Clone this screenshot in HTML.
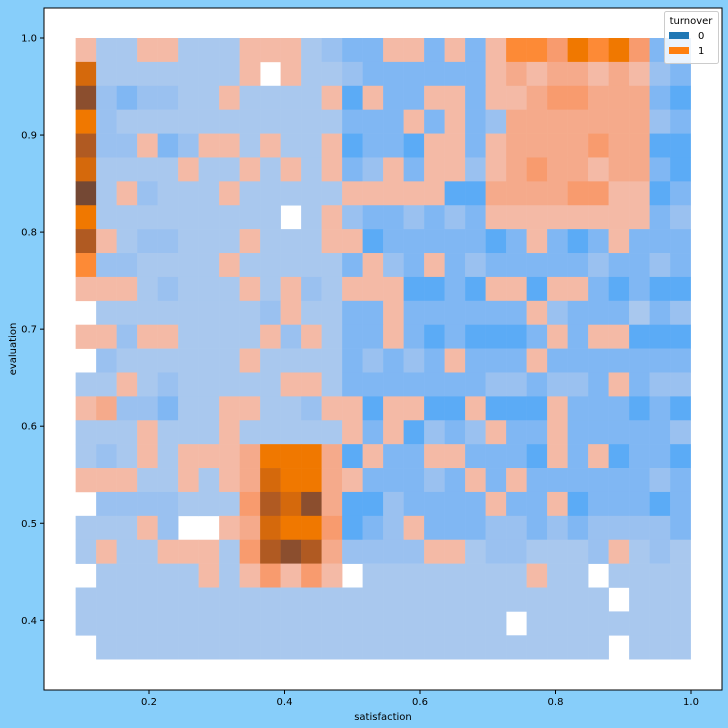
<!DOCTYPE html>
<html><head><meta charset="utf-8"><style>
html,body{margin:0;padding:0;background:#87cefa;}
svg{display:block;font-family:"DejaVu Sans","Liberation Sans",sans-serif;}
</style></head><body>
<svg id="chart" width="728" height="728" viewBox="0 0 728 728">
<rect x="0" y="0" width="728" height="728" fill="#87cefa"/>
<rect x="44" y="8" width="678" height="682" fill="#ffffff"/>
<g id="cells"></g>
<g id="axes"></g>
<rect x="44" y="8" width="678" height="682" fill="none" stroke="#000" stroke-width="1"/>
<text x="383" y="720" font-size="10" text-anchor="middle">satisfaction</text>
<text x="16" y="349" font-size="10" text-anchor="middle" transform="rotate(-90 16 349)">evaluation</text>
<g>
<rect x="664.5" y="11.5" width="54" height="52" rx="2" fill="#ffffff" fill-opacity="0.8" stroke="#cccccc"/>
<text x="691" y="24" font-size="10" text-anchor="middle">turnover</text>
<rect x="669" y="32" width="20" height="7" fill="#1f77b4"/>
<text x="698" y="39" font-size="10">0</text>
<rect x="669" y="47" width="20" height="7" fill="#ff7f0e"/>
<text x="698" y="54" font-size="10">1</text>
</g>
</svg>
<script>
// Grid codes: '0' empty, '1'-'4' turnover=0 density level, 'a'-'i' turnover=1 density level
const gridRows = [
"a11aa111aaa1233aa3a3addcedec32",
"f1111111a0a112333333ababbaba23",
"h232211a1111a4a33aa3aabccbbb34",
"e211111111111333a3a32bbbbbbb23",
"g22a32aa1a11a4334aa3abbbbcbb44",
"f1111a11a1a1a32a3aa2abcbbabb34",
"i1a2111a11111aaaaa44bbbbccaa43",
"e11111111101a2332323aaaaaaaa32",
"ga122111a111aa43333343a343a333",
"d221111a111113a23a323333323323",
"aaa12111a1a21aaa4434aa4aa34344",
"0111111112a1133a333333a2333132",
"aa2aa1111a2a133a3434443a3aa444",
"02111111a111132323a333a3333333",
"11a1211111aa13333333223223a322",
"ab22311aa112aa4aa44a444a333434",
"111a111a11111a3a4232a33a333332",
"121a1aaabeeeb4a33aa3334a3a4334",
"aaa11a1abfeeba33323a3a33333323",
"02222111cgfhb4423333a33a433343",
"111a200abfeec432a3332232322223",
"1a11aaa1cghgb2222aa1221112a121",
"011111a1acaca011111111a1101111",
"111111111111111111111111110111",
"111111111111111111111011111111",
"011111111111111111111111110111"
];
const xTicks = [0.2, 0.4, 0.6, 0.8, 1.0];
const yTicks = [0.4, 0.5, 0.6, 0.7, 0.8, 0.9, 1.0];
const xBinStart = 0.0917, xBinWidth = 0.030258;
const yBinTop = 1.0, yBinHeight = 0.024618;

const blueColors = ["none","#a9c8ee","#9ac1f0","#80b7f3","#5babf6"];
const orangeColors = {a:"#f4baa6",b:"#f5aa8b",c:"#f89b6e",d:"#fd8a36",e:"#f07800",f:"#d5690c",g:"#b05a22",h:"#8b4e2e",i:"#744834"};

function xScale(v){ return 149 + (v - 0.2) * 677.5; }
function yScale(v){ return 38 + (1.0 - v) * 970.5; }

const NS = "http://www.w3.org/2000/svg";
const cellsG = document.getElementById("cells");
gridRows.forEach(function(row, r){
  for (let c = 0; c < row.length; c++){
    const code = row[c];
    if (code === "0") continue;
    const fill = orangeColors[code] || blueColors[+code];
    const x0 = xScale(xBinStart + c * xBinWidth), x1 = xScale(xBinStart + (c + 1) * xBinWidth);
    const y0 = yScale(yBinTop - r * yBinHeight), y1 = yScale(yBinTop - (r + 1) * yBinHeight);
    const rect = document.createElementNS(NS, "rect");
    rect.setAttribute("x", x0.toFixed(2));
    rect.setAttribute("y", y0.toFixed(2));
    rect.setAttribute("width", (x1 - x0 + 0.3).toFixed(2));
    rect.setAttribute("height", (y1 - y0 + 0.3).toFixed(2));
    rect.setAttribute("fill", fill);
    
    
    cellsG.appendChild(rect);
  }
});

const axesG = document.getElementById("axes");
xTicks.forEach(function(t){
  const x = xScale(t);
  const ln = document.createElementNS(NS, "line");
  ln.setAttribute("x1", x); ln.setAttribute("x2", x);
  ln.setAttribute("y1", 690); ln.setAttribute("y2", 694);
  ln.setAttribute("stroke", "#000");
  
  
  axesG.appendChild(ln);
  const tx = document.createElementNS(NS, "text");
  tx.setAttribute("x", x); tx.setAttribute("y", 705);
  tx.setAttribute("font-size", "10"); tx.setAttribute("text-anchor", "middle");
  tx.textContent = t.toFixed(1);
  
  
  axesG.appendChild(tx);
});
yTicks.forEach(function(t){
  const y = yScale(t);
  const ln = document.createElementNS(NS, "line");
  ln.setAttribute("x1", 40); ln.setAttribute("x2", 44);
  ln.setAttribute("y1", y); ln.setAttribute("y2", y);
  ln.setAttribute("stroke", "#000");
  
  
  axesG.appendChild(ln);
  const tx = document.createElementNS(NS, "text");
  tx.setAttribute("x", 37); tx.setAttribute("y", y + 3.5);
  tx.setAttribute("font-size", "10"); tx.setAttribute("text-anchor", "end");
  tx.textContent = t.toFixed(1);
  
  
  axesG.appendChild(tx);
});
</script>
</body></html>
